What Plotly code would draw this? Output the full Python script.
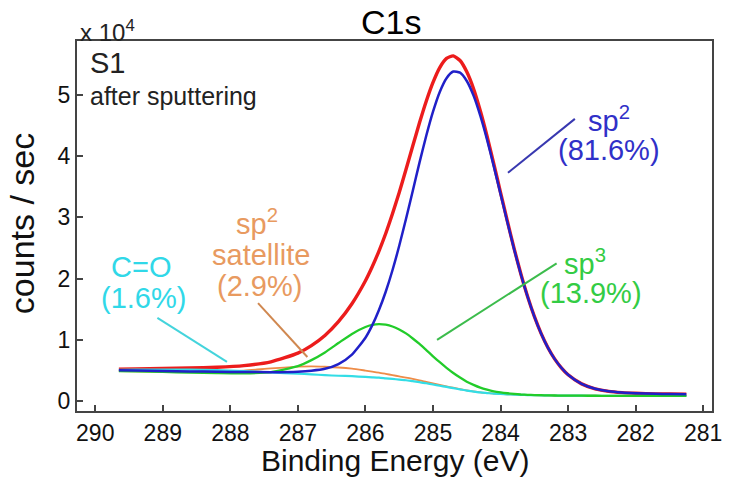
import plotly.graph_objects as go

# Binding energy grid (eV)
binding_energy = [289.65, 289.4, 289.0, 288.6, 288.2, 287.8, 287.4, 287.0, 286.8, 286.6,
                  286.4, 286.2, 286.0, 285.9, 285.8, 285.7, 285.6, 285.5, 285.4, 285.3,
                  285.2, 285.1, 285.0, 284.9, 284.8, 284.7, 284.6, 284.5, 284.4, 284.3,
                  284.2, 284.1, 284.0, 283.9, 283.8, 283.7, 283.6, 283.5, 283.4, 283.3,
                  283.2, 283.1, 283.0, 282.8, 282.6, 282.4, 282.2, 282.0, 281.7, 281.5, 281.25]

# counts/sec in units of 1e4
envelope = [0.522, 0.525, 0.531, 0.540, 0.552, 0.578, 0.641, 0.783, 0.906, 1.072,
            1.297, 1.590, 1.966, 2.194, 2.451, 2.738, 3.059, 3.409, 3.784, 4.166,
            4.546, 4.899, 5.207, 5.449, 5.598, 5.640, 5.564, 5.379, 5.103, 4.744,
            4.329, 3.874, 3.407, 2.942, 2.494, 2.079, 1.708, 1.383, 1.106, 0.875,
            0.689, 0.543, 0.429, 0.280, 0.200, 0.158, 0.138, 0.127, 0.117, 0.114, 0.110]

sp2 = [0.502, 0.498, 0.490, 0.484, 0.478, 0.474, 0.472, 0.480, 0.495, 0.526,
       0.604, 0.759, 1.035, 1.236, 1.487, 1.786, 2.137, 2.537, 2.975, 3.433,
       3.895, 4.334, 4.728, 5.051, 5.276, 5.384, 5.365, 5.229, 4.991, 4.663,
       4.272, 3.835, 3.381, 2.925, 2.483, 2.072, 1.704, 1.380, 1.104, 0.874,
       0.689, 0.543, 0.429, 0.280, 0.200, 0.158, 0.138, 0.127, 0.117, 0.114, 0.110]

sp3 = [0.490, 0.485, 0.475, 0.465, 0.456, 0.452, 0.474, 0.571, 0.668, 0.794,
       0.947, 1.097, 1.209, 1.243, 1.257, 1.247, 1.218, 1.169, 1.105, 1.022,
       0.932, 0.832, 0.731, 0.634, 0.542, 0.458, 0.383, 0.316, 0.264, 0.219,
       0.186, 0.159, 0.141, 0.127, 0.116, 0.107, 0.102, 0.098, 0.095, 0.092,
       0.090, 0.089, 0.088, 0.087, 0.086, 0.085, 0.085, 0.085, 0.085, 0.085, 0.085]

sp2_satellite = [0.490, 0.485, 0.477, 0.473, 0.478, 0.498, 0.532, 0.561, 0.567, 0.560,
                 0.548, 0.528, 0.498, 0.482, 0.465, 0.444, 0.423, 0.403, 0.384, 0.361,
                 0.339, 0.313, 0.288, 0.264, 0.240, 0.218, 0.196, 0.174, 0.158, 0.142,
                 0.131, 0.120, 0.115, 0.110, 0.105, 0.100, 0.098, 0.095, 0.093, 0.091,
                 0.090, 0.089, 0.088, 0.087, 0.086, 0.085, 0.085, 0.085, 0.085, 0.085, 0.085]

c_o = [0.510, 0.512, 0.514, 0.513, 0.505, 0.489, 0.468, 0.446, 0.436, 0.422,
       0.413, 0.406, 0.394, 0.388, 0.382, 0.371, 0.361, 0.350, 0.340, 0.325,
       0.310, 0.290, 0.270, 0.250, 0.230, 0.210, 0.190, 0.170, 0.155, 0.140,
       0.130, 0.120, 0.115, 0.110, 0.105, 0.100, 0.098, 0.095, 0.093, 0.091,
       0.090, 0.089, 0.088, 0.087, 0.086, 0.085, 0.085, 0.085, 0.085, 0.085, 0.085]

x_ticks = [290, 289, 288, 287, 286, 285, 284, 283, 282, 281]
y_ticks = [0, 1, 2, 3, 4, 5]

FONT = "Liberation Sans, Arial, sans-serif"

fig = go.Figure()
traces = [
    (envelope, "#ec1c1c", 3.4, "envelope"),
    (sp2_satellite, "#ee8c48", 1.8, "sp2 satellite"),
    (c_o, "#33dde6", 2.2, "C=O"),
    (sp3, "#22cc2a", 2.3, "sp3"),
    (sp2, "#2020c8", 2.5, "sp2"),
]
for ys, col, w, name in traces:
    fig.add_trace(go.Scatter(x=binding_energy, y=ys, mode="lines", name=name,
                             line=dict(color=col, width=w, shape="spline", smoothing=0.6)))

# labels: (text, x, y, color, size)
labels = [
    ("sp<sup>2</sup>", 282.40, 4.61, "#3030c8", 29),
    ("(81.6%)", 282.40, 4.10, "#3030c8", 29),
    ("sp<sup>3</sup>", 282.75, 2.27, "#33cc44", 29),
    ("(13.9%)", 282.66, 1.76, "#33cc44", 29),
    ("sp<sup>2</sup>", 287.60, 2.92, "#e89a60", 29),
    ("satellite", 287.54, 2.39, "#e89a60", 29),
    ("(2.9%)", 287.57, 1.88, "#e89a60", 29),
    ("C=O", 289.33, 2.19, "#30d8e8", 29),
    ("(1.6%)", 289.29, 1.68, "#30d8e8", 29),
]
for t, x, y, c, s in labels:
    fig.add_annotation(x=x, y=y, xref="x", yref="y", text=t, showarrow=False,
                       font=dict(family=FONT, size=s, color=c), xanchor="center", yanchor="middle")

# leader lines: (x0, y0, x1, y1, color)
leaders = [
    (283.89, 3.73, 282.90, 4.61, "#3838b0"),
    (284.94, 1.00, 283.17, 2.25, "#3cbc4c"),
    (287.59, 1.60, 286.86, 0.72, "#d08850"),
    (289.08, 1.36, 288.05, 0.64, "#44d4dc"),
]
for x0, y0, x1, y1, c in leaders:
    fig.add_shape(type="line", xref="x", yref="y", x0=x0, y0=y0, x1=x1, y1=y1,
                  line=dict(color=c, width=2))

# title / texts
fig.add_annotation(x=0.494, y=1.051, xref="paper", yref="paper", text="C1s", showarrow=False,
                   font=dict(family=FONT, size=34, color="black"), xanchor="center", yanchor="middle")
fig.add_annotation(x=0.0016, y=1.027, xref="paper", yref="paper", text="x 10<sup>4</sup>",
                   showarrow=False, font=dict(family=FONT, size=24, color="#222"),
                   xanchor="left", yanchor="middle")
fig.add_annotation(x=0.0173, y=0.9405, xref="paper", yref="paper", text="S1", showarrow=False,
                   font=dict(family=FONT, size=29, color="#222"), xanchor="left", yanchor="middle")
fig.add_annotation(x=0.0173, y=0.852, xref="paper", yref="paper", text="after sputtering",
                   showarrow=False, font=dict(family=FONT, size=25, color="#222"),
                   xanchor="left", yanchor="middle")
fig.add_annotation(x=0.5008, y=-0.135, xref="paper", yref="paper", text="Binding Energy (eV)",
                   showarrow=False, font=dict(family=FONT, size=30, color="#111"),
                   xanchor="center", yanchor="middle")
fig.add_annotation(x=-0.0866, y=0.505, xref="paper", yref="paper", text="counts / sec",
                   showarrow=False, textangle=-90, font=dict(family=FONT, size=34, color="#111"),
                   xanchor="center", yanchor="middle")

axis_common = dict(showline=True, linecolor="#444", linewidth=2, mirror=True,
                   ticks="inside", ticklen=6, tickwidth=1.5, tickcolor="#444",
                   showgrid=False, zeroline=False,
                   tickfont=dict(family=FONT, size=23, color="#111"))
fig.update_xaxes(range=[290.27, 280.87], tickvals=x_ticks, ticktext=[str(v) for v in x_ticks],
                 **axis_common)
fig.update_yaxes(range=[-0.163, 5.883], tickvals=y_ticks, ticktext=[str(v) for v in y_ticks],
                 **axis_common)

fig.update_layout(width=733, height=481, margin=dict(l=77, r=21, t=41, b=70),
                  paper_bgcolor="white", plot_bgcolor="white", showlegend=False)

fig.write_html("out.html")
